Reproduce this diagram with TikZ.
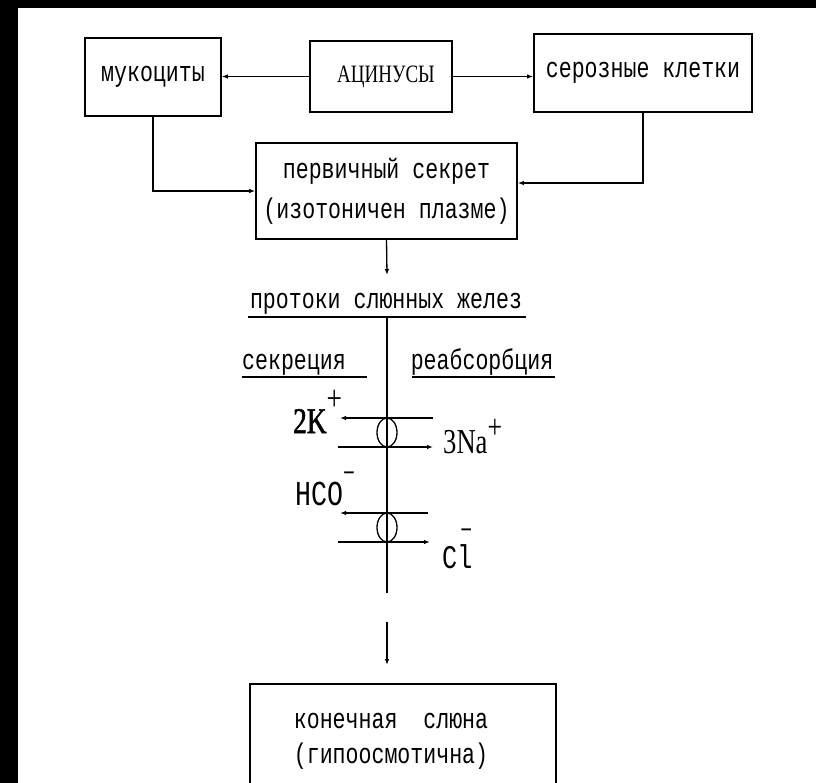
\documentclass[tikz,border=0pt]{standalone}
\usepackage{fontspec}
\usetikzlibrary{arrows.meta,calc,shapes.geometric}
\newfontfamily\courf[FakeStretch=0.76]{Liberation Mono}
\newfontfamily\timesf[FakeStretch=0.76]{Liberation Serif}
\newfontfamily\timesk[FakeStretch=0.76,FakeBold=1.5]{Liberation Serif}
\newcommand\monotext{\courf\fontsize{28.4}{40}\selectfont}
\newcommand\fintext{\courf\fontsize{28.4}{35}\selectfont}
\begin{document}
\begin{tikzpicture}[x=1pt,y=-1pt,
  box/.style={draw, line width=1.7pt, inner sep=0pt, font=\monotext},
  txt/.style={inner sep=0pt, font=\monotext},
  arr/.style={line width=1.3pt, -{Latex[length=6pt,width=4.5pt]}},
  ln/.style={line width=1.3pt},
  pump/.style={draw, ellipse, line width=1.3pt, inner sep=0pt, minimum width=20pt, minimum height=29pt}]
\useasboundingbox (0,0) rectangle (816,783);
\clip (0,0) rectangle (816,783);
\fill[black] (0,0) rectangle (816,783);
\fill[white] (18,8) rectangle (816,783);
% boxes
\node[box, minimum width=136pt, minimum height=78pt] (muk) at (153,77) {мукоциты};
\node[box, minimum width=142pt, minimum height=71pt, font=\timesf\fontsize{25}{28}\selectfont] (acin) at (381,76.5) {\hspace{10pt}АЦИНУСЫ};
\node[box, minimum width=218pt, minimum height=78pt] (ser) at (643,73) {серозные клетки};
\node[box, minimum width=261pt, minimum height=96pt, align=center] (prim) at (386.5,191) {первичный секрет\\(изотоничен плазме)};
\node[box, minimum width=306pt, minimum height=116pt] (fin) at (403,742) {};
\node[txt, font=\fintext, align=center] (fintxt) at (391,741) {конечная\ \ слюна\\(гипоосмотична)};
% top connectors
\draw[arr] (acin.west) -- (muk.east |- acin.west);
\draw[arr] (acin.east) -- (ser.west |- acin.east);
\draw[arr] (muk.south) |- (prim.west);
\coordinate (primR) at ($(prim.east)+(0,-8)$);
\draw[arr] (ser.south) |- (primR);
\coordinate (a1) at (387,275);
\draw[arr] (prim.south) -- (a1);
% duct
\node[txt, anchor=base] (duct) at (386,309) {протоки слюнных желез};
\coordinate (uL) at (248,317); \coordinate (uR) at (526,317);
\draw[ln] (uL) -- (uR);
\node[txt, anchor=base] (sec) at (294,369) {секреция};
\node[txt, anchor=base] (reab) at (482,369) {реабсорбция};
\coordinate (sL) at (242,377); \coordinate (sR) at (367,377);
\coordinate (rL) at (412,377); \coordinate (rR) at (555,377);
\draw[ln] (sL) -- (sR);
\draw[ln] (rL) -- (rR);
\coordinate (vTop) at (387,317); \coordinate (vBot) at (387,593);
\draw[ln] (vTop) -- (vBot);
% pumps
\node[pump] (p1) at (387,432.5) {};
\node[pump] (p2) at (387,527.5) {};
\coordinate (k1) at (433,418); \coordinate (k2) at (340,418);
\coordinate (n1) at (338,447); \coordinate (n2) at (433,447);
\coordinate (h1) at (428,513); \coordinate (h2) at (340,513);
\coordinate (c1) at (338,542); \coordinate (c2) at (430,542);
\draw[arr] (k1) -- (k2);
\draw[arr] (n1) -- (n2);
\draw[arr] (h1) -- (h2);
\draw[arr] (c1) -- (c2);
% ion labels
\node[anchor=base west, inner sep=0pt, font=\timesk\fontsize{36}{36}\selectfont] (k) at (293,433) {2K\raisebox{23pt}{\timesf\fontsize{36}{36}\selectfont +}};
\node[anchor=base west, inner sep=0pt, font=\timesf\fontsize{35}{35}\selectfont] (na) at (443,453) {3Na\raisebox{15pt}{\fontsize{34}{34}\selectfont +}};
\node[anchor=base west, inner sep=0pt, font=\courf\fontsize{35}{35}\selectfont] (hco) at (295,505) {HCO\raisebox{24pt}{\fontsize{26}{26}\selectfont −}};
\node[anchor=base west, inner sep=0pt, font=\courf\fontsize{33}{33}\selectfont] (cl) at (442,568) {Cl\llap{\raisebox{30pt}{\fontsize{26}{26}\selectfont −}}};
% final arrow
\coordinate (f1) at (387,622); \coordinate (f2) at (387,665);
\draw[arr] (f1) -- (f2);
\end{tikzpicture}
\end{document}
